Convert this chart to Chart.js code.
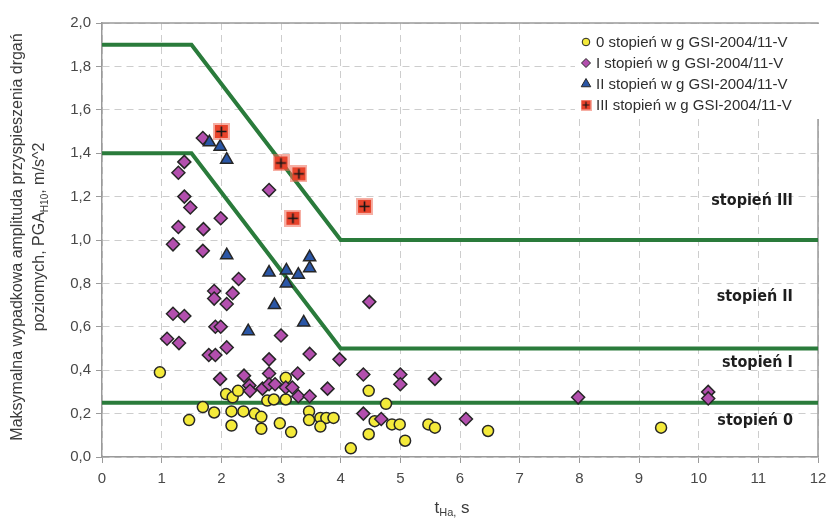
<!DOCTYPE html>
<html>
<head>
<meta charset="utf-8">
<script src="https://cdn.jsdelivr.net/npm/chart.js@4.4.0/dist/chart.umd.min.js"></script>
<style>
  html, body { margin: 0; padding: 0; background: #fff; }
  #wrap { width: 828px; height: 518px; }
</style>
</head>
<body>
<div id="wrap"><canvas id="chart" width="828" height="518"></canvas></div>
<script>
// series names (legend)
const seriesNames = [
    '0 stopień w g GSI-2004/11-V',
    'I stopień w g GSI-2004/11-V',
    'II stopień w g GSI-2004/11-V',
    'III stopień w g GSI-2004/11-V'
];

// 0 stopień
const deg0X = [0.97, 1.46, 1.69, 1.88, 2.08, 2.19, 2.28, 2.17, 2.37, 2.56, 2.67, 2.17, 2.67, 2.77, 2.88, 3.08, 3.08, 2.98, 3.17, 3.47,
    3.47, 3.66, 3.76, 3.88, 3.66, 4.47, 4.76, 4.57, 4.47, 4.17, 4.86, 4.99, 5.08, 5.47, 5.58, 6.47, 9.37];
const deg0Y = [0.39, 0.17, 0.23, 0.205, 0.29, 0.275, 0.305, 0.21, 0.21, 0.2, 0.185, 0.145, 0.13, 0.26, 0.265, 0.265, 0.365, 0.155, 0.115, 0.21,
    0.17, 0.18, 0.18, 0.18, 0.14, 0.305, 0.245, 0.165, 0.105, 0.04, 0.15, 0.15, 0.075, 0.15, 0.135, 0.12, 0.135];

// I stopień
const deg1X = [1.69, 1.38, 1.28, 2.8, 1.38, 1.48, 1.99, 1.28, 1.7, 1.19, 1.69, 2.29, 1.88, 1.88, 2.19, 2.09, 1.19, 1.38, 1.9, 1.99,
    3.0, 1.09, 1.29, 2.09, 1.79, 1.9, 2.8, 3.48, 3.98, 1.98, 2.38, 2.8, 3.28, 2.47, 2.48, 2.69, 2.8, 2.9, 3.08, 3.19,
    3.29, 3.48, 3.78, 4.48, 4.38, 5.0, 5.0, 5.58, 7.98, 4.38, 4.68, 6.1, 10.16, 10.16];
const deg1Y = [1.47, 1.36, 1.31, 1.23, 1.2, 1.15, 1.1, 1.06, 1.05, 0.98, 0.95, 0.82, 0.765, 0.73, 0.755, 0.705, 0.66, 0.65, 0.6, 0.6,
    0.56, 0.545, 0.525, 0.505, 0.47, 0.47, 0.45, 0.475, 0.45, 0.36, 0.375, 0.385, 0.385, 0.33, 0.305, 0.315, 0.335, 0.335, 0.32, 0.32,
    0.28, 0.28, 0.315, 0.715, 0.38, 0.38, 0.335, 0.36, 0.275, 0.2, 0.175, 0.175, 0.3, 0.27];

// II stopień
const deg2X = [1.8, 1.98, 2.09, 2.09, 2.8, 3.09, 3.29, 3.48, 3.48, 3.09, 2.89, 2.45, 3.38];
const deg2Y = [1.45, 1.43, 1.37, 0.93, 0.85, 0.86, 0.84, 0.92, 0.87, 0.8, 0.7, 0.58, 0.62];

// III stopień
const deg3X = [2.0, 3.0, 3.3, 3.2, 4.4];
const deg3Y = [1.5, 1.355, 1.305, 1.1, 1.155];

// granice stopni
const limitIIIX = [0, 1.5, 4, 12];
const limitIIIY = [1.9, 1.9, 1.0, 1.0];
const limitIIX = [0, 1.5, 4, 12];
const limitIIY = [1.4, 1.4, 0.5, 0.5];
const limitIX = [0, 12];
const limitIY = [0.25, 0.25];

const zoneNames = ['stopień III', 'stopień II', 'stopień I', 'stopień 0'];
const zoneNameY = [1.18, 0.74, 0.433, 0.166];

const FONT = '"Liberation Sans", Arial, sans-serif';
const GREEN = '#2a7b3b';

const toPoints = (xs, ys) => xs.map((x, i) => ({x: x, y: ys[i]}));

// red square with black cross
const makeRedMarker = size => {
    const c = document.createElement('canvas');
    c.width = size;
    c.height = size;
    const g = c.getContext('2d');
    g.fillStyle = 'rgba(238, 110, 90, 0.55)';
    g.fillRect(0, 0, size, size);
    g.fillStyle = '#e8432b';
    const p = Math.max(1, Math.round(size * 0.12));
    g.fillRect(p, p, size - 2 * p, size - 2 * p);
    g.strokeStyle = '#151515';
    g.lineWidth = size > 12 ? 1.6 : 1.2;
    const m = size / 2, h = size * 0.3;
    g.beginPath();
    g.moveTo(m, m - h); g.lineTo(m, m + h);
    g.moveTo(m - h, m); g.lineTo(m + h, m);
    g.stroke();
    return c;
};
const redMarker = makeRedMarker(17);
const redMarkerSmall = makeRedMarker(11);

const pointSet = (i, xs, ys, style, radius, color, order) => ({
    label: seriesNames[i],
    data: toPoints(xs, ys),
    showLine: false,
    pointStyle: style,
    pointRadius: radius,
    pointHoverRadius: radius,
    pointBackgroundColor: color,
    pointBorderColor: '#262626',
    pointBorderWidth: 1.5,
    order: order
});

const lineSet = (xs, ys) => ({
    label: '',
    data: toPoints(xs, ys),
    showLine: true,
    borderColor: GREEN,
    borderWidth: 4,
    pointRadius: 0,
    pointHoverRadius: 0,
    fill: false,
    order: 10
});

const legendMarkers = [
    {pointStyle: 'circle', radius: 3.8, color: '#f4ea3a'},
    {pointStyle: 'rectRot', radius: 4.5, color: '#b34fae'},
    {pointStyle: 'triangle', radius: 5.5, color: '#2a56a6'},
    {pointStyle: redMarkerSmall, radius: 5, color: '#e8432b'}
];

// frame, legend, zone names and axis titles
const decorPlugin = {
    id: 'decor',
    beforeDatasetsDraw(chart) {
        const {ctx, chartArea: a} = chart;
        ctx.save();
        ctx.strokeStyle = '#9a9a9a';
        ctx.lineWidth = 1.5;
        ctx.beginPath();
        ctx.moveTo(a.left, a.top);
        ctx.lineTo(a.right, a.top);
        ctx.lineTo(a.right, a.bottom);
        ctx.stroke();
        ctx.restore();
    },
    afterDatasetsDraw(chart) {
        const {ctx, scales} = chart;
        ctx.save();

        // zone names
        ctx.font = `bold 16px "DejaVu Sans Condensed", ${FONT}`;
        ctx.fillStyle = '#1e1e1e';
        ctx.textAlign = 'right';
        ctx.textBaseline = 'middle';
        zoneNames.forEach((name, i) => {
            ctx.fillText(name, scales.x.getPixelForValue(11.58), scales.y.getPixelForValue(zoneNameY[i]));
        });

        // legend
        ctx.fillStyle = '#fff';
        ctx.fillRect(575, 24, 245, 95);
        ctx.font = `15px ${FONT}`;
        ctx.textAlign = 'left';
        legendMarkers.forEach((m, i) => {
            const y = 42 + i * 21;
            ctx.fillStyle = m.color;
            ctx.strokeStyle = '#262626';
            ctx.lineWidth = 1;
            Chart.helpers.drawPoint(ctx, {pointStyle: m.pointStyle, radius: m.radius, rotation: 0, borderWidth: 1}, 586, y);
            ctx.fillStyle = '#2e2e2e';
            ctx.fillText(seriesNames[i], 596, y + 1);
        });
        ctx.restore();
    },
    afterDraw(chart) {
        const {ctx} = chart;
        ctx.save();
        ctx.fillStyle = '#3c3c3c';
        ctx.textBaseline = 'middle';

        // text with subscript, centered at (0, 0)
        const drawParts = (parts, size) => {
            const widths = parts.map(p => {
                ctx.font = `${p.sub ? Math.round(size * 0.65) : size}px ${FONT}`;
                return ctx.measureText(p.text).width;
            });
            let x = -widths.reduce((acc, w) => acc + w, 0) / 2;
            ctx.textAlign = 'left';
            parts.forEach((p, i) => {
                ctx.font = `${p.sub ? Math.round(size * 0.65) : size}px ${FONT}`;
                ctx.fillText(p.text, x, p.sub ? size * 0.3 : 0);
                x += widths[i];
            });
        };

        // y title
        ctx.save();
        ctx.translate(18, 237);
        ctx.rotate(-Math.PI / 2);
        drawParts([{text: 'Maksymalna wypadkowa amplituda przyspieszenia drgań'}], 16);
        ctx.restore();
        ctx.save();
        ctx.translate(40, 237);
        ctx.rotate(-Math.PI / 2);
        drawParts([{text: 'poziomych, PGA'}, {text: 'H10', sub: true}, {text: ', m/s^2'}], 16);
        ctx.restore();

        // x title
        ctx.save();
        ctx.translate(452, 508);
        drawParts([{text: 't'}, {text: 'Ha,', sub: true}, {text: ' s'}], 17);
        ctx.restore();

        ctx.restore();
    }
};

const ctx = document.getElementById('chart').getContext('2d');

new Chart(ctx, {
    type: 'scatter',
    data: {
        datasets: [
            pointSet(0, deg0X, deg0Y, 'circle', 5.5, '#f4ea3a', 4),
            pointSet(1, deg1X, deg1Y, 'rectRot', 6.5, '#b34fae', 3),
            pointSet(2, deg2X, deg2Y, 'triangle', 7, '#2a56a6', 2),
            pointSet(3, deg3X, deg3Y, redMarker, 8.5, '#e8432b', 1),
            lineSet(limitIIIX, limitIIIY),
            lineSet(limitIIX, limitIIY),
            lineSet(limitIX, limitIY)
        ]
    },
    options: {
        responsive: false,
        animation: false,
        events: [],
        layout: {padding: {top: 23, right: 6, bottom: 0, left: 0}},
        plugins: {
            legend: {display: false},
            tooltip: {enabled: false}
        },
        scales: {
            x: {
                type: 'linear',
                min: 0,
                max: 12,
                ticks: {stepSize: 1, color: '#484848', padding: 7, font: {family: FONT, size: 15}},
                grid: {color: '#cdcdcd', tickLength: 6, tickColor: '#9a9a9a', tickWidth: 1},
                border: {color: '#9a9a9a', width: 1.5, dash: [7, 5]},
                afterFit: scale => {
                    scale.height = 61;
                    scale.paddingLeft = 0;
                    scale.paddingRight = 0;
                }
            },
            y: {
                type: 'linear',
                min: 0,
                max: 2,
                ticks: {
                    stepSize: 0.2,
                    color: '#484848',
                    padding: 5,
                    font: {family: FONT, size: 15},
                    callback: value => value.toFixed(1).replace('.', ',')
                },
                grid: {color: '#cdcdcd', tickLength: 6, tickColor: '#9a9a9a', tickWidth: 1},
                border: {color: '#9a9a9a', width: 1.5, dash: [7, 5]},
                afterFit: scale => {
                    scale.width = 102;
                    scale.paddingTop = 0;
                    scale.paddingBottom = 0;
                }
            }
        }
    },
    plugins: [decorPlugin]
});
</script>
</body>
</html>
